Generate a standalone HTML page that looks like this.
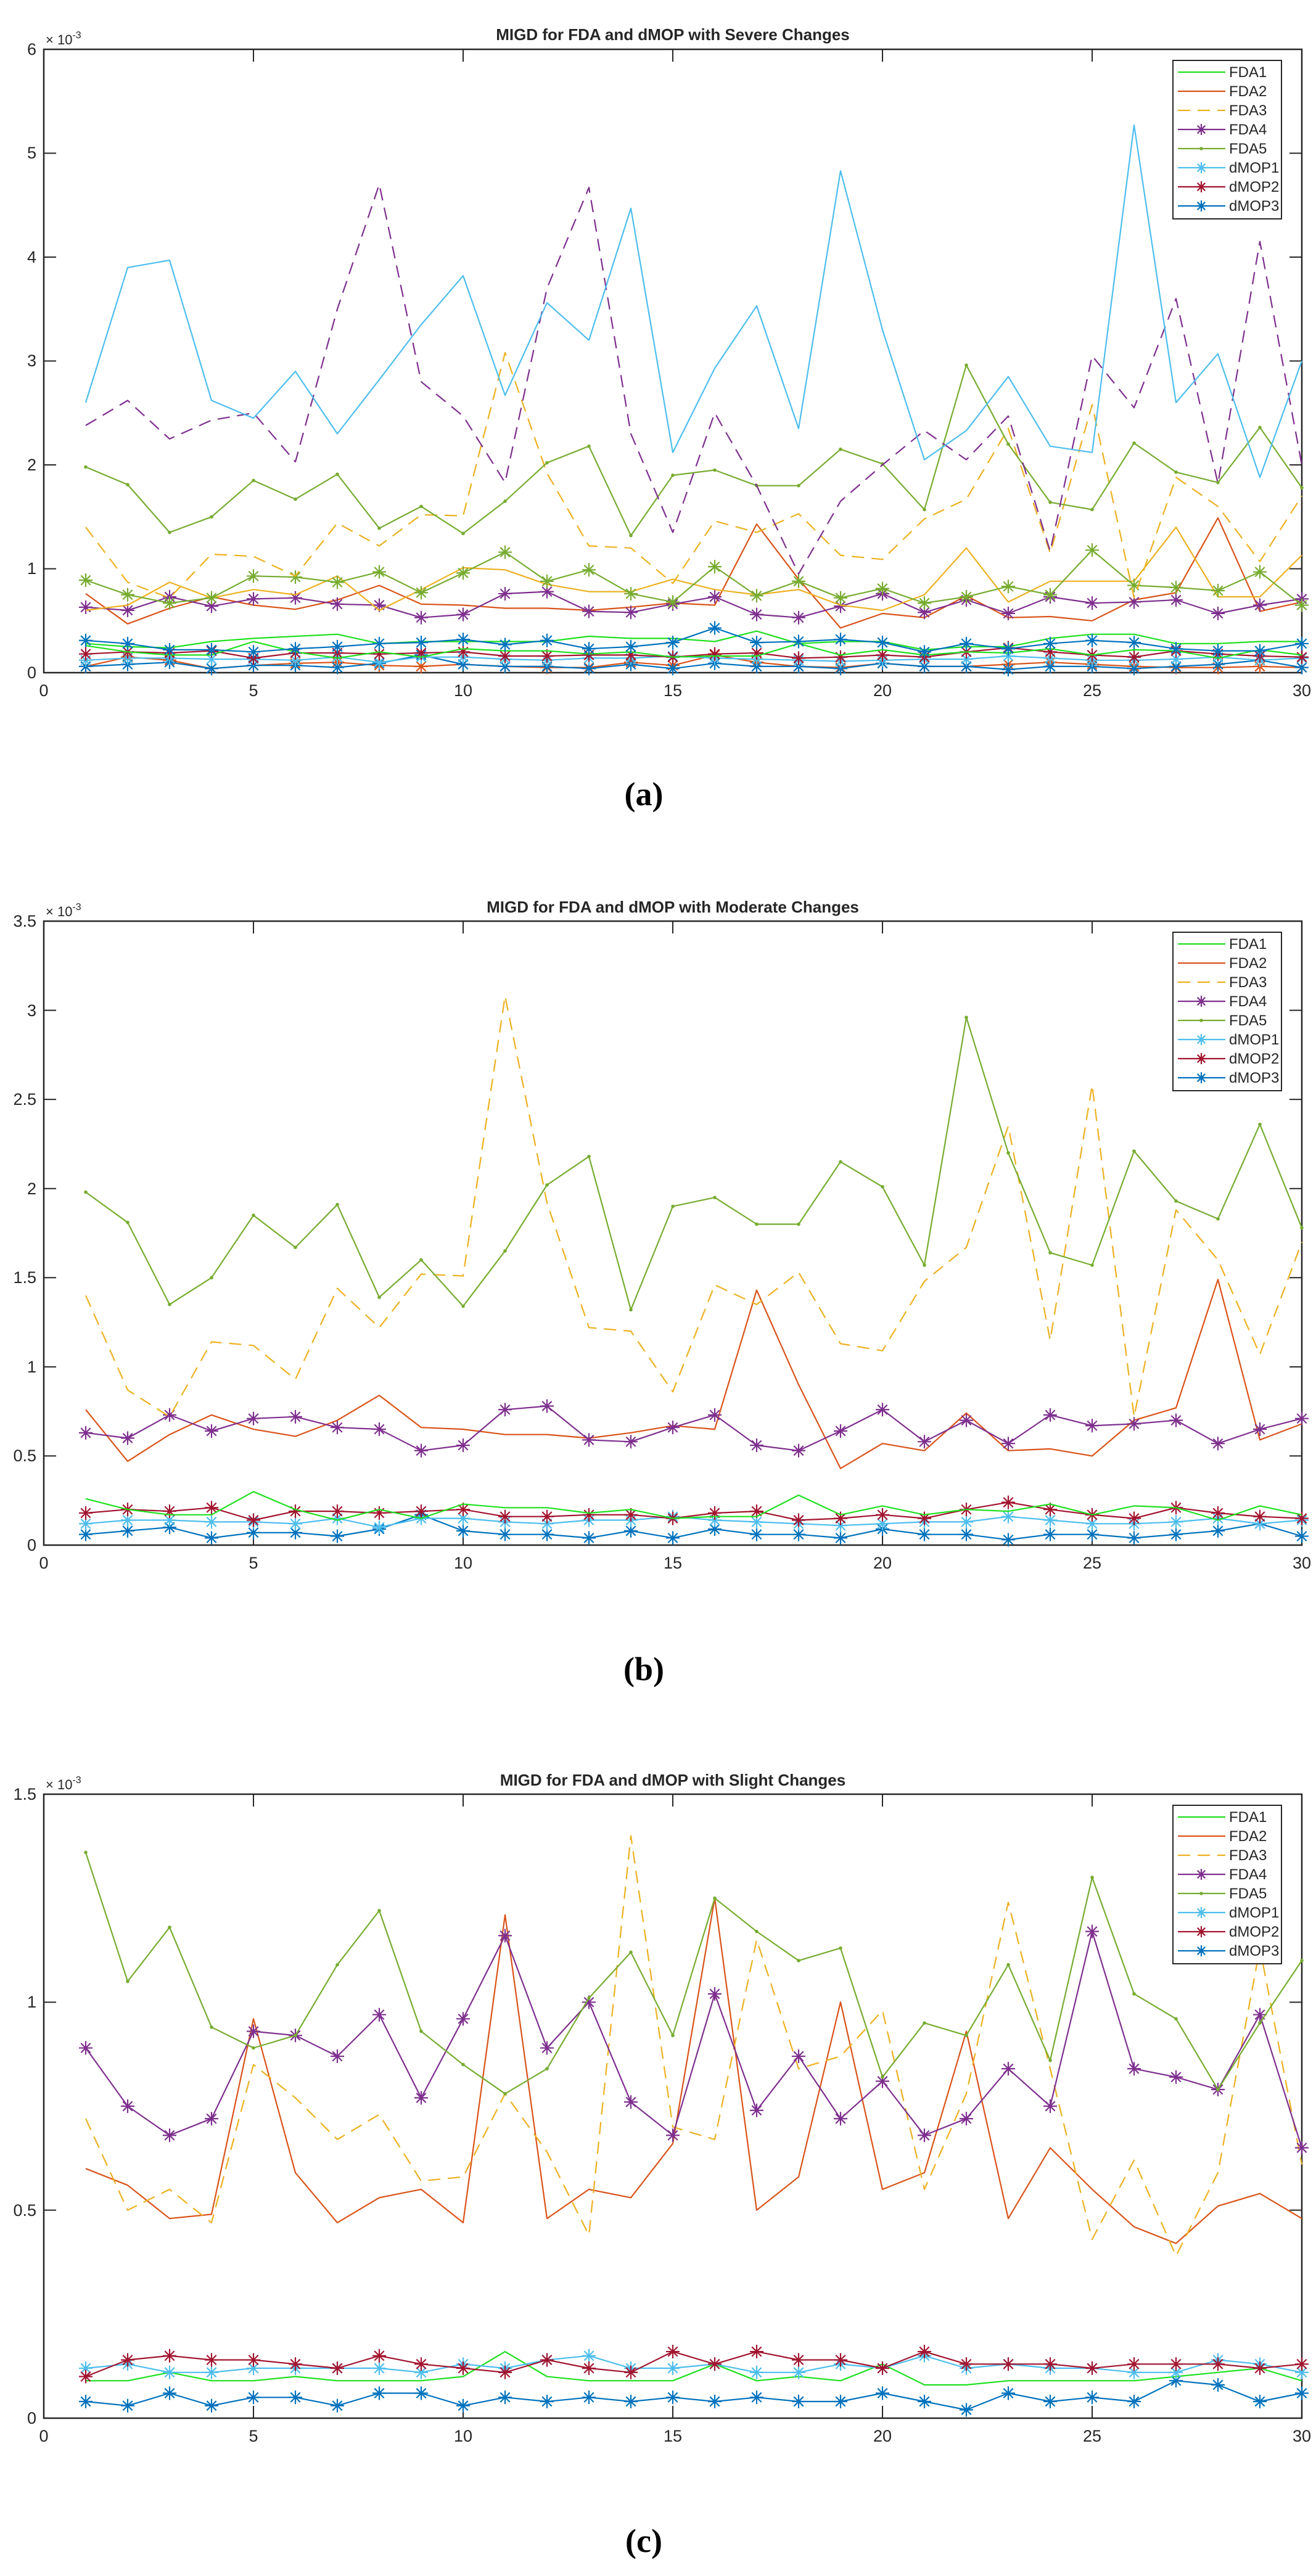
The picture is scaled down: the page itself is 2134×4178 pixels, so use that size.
<!DOCTYPE html>
<html><head><meta charset="utf-8">
<style>
html,body{margin:0;padding:0;background:#fff;}
svg{display:block;}
.t{font-family:"Liberation Sans",Arial,sans-serif;fill:#262626;}
</style></head>
<body>
<svg id="s" width="2134" height="4178" viewBox="0 0 2134 4178" xmlns="http://www.w3.org/2000/svg">
<rect width="2134" height="4178" fill="#fff"/>
<g id="plots"></g>
<g class="t" font-size="27" text-anchor="end">
<text x="59" y="1100">0</text><text x="59" y="931">1</text><text x="59" y="763">2</text><text x="59" y="594">3</text><text x="59" y="426">4</text><text x="59" y="257">5</text><text x="59" y="89">6</text>
<text x="59" y="2515">0</text><text x="59" y="2370">0.5</text><text x="59" y="2226">1</text><text x="59" y="2081">1.5</text><text x="59" y="1937">2</text><text x="59" y="1792">2.5</text><text x="59" y="1648">3</text><text x="59" y="1503">3.5</text>
<text x="59" y="3931">0</text><text x="59" y="3594">0.5</text><text x="59" y="3256">1</text><text x="59" y="2919">1.5</text>
</g>
<g class="t" font-size="27" text-anchor="middle">
<text x="71" y="1129">0</text><text x="411" y="1129">5</text><text x="751" y="1129">10</text><text x="1091" y="1129">15</text><text x="1431" y="1129">20</text><text x="1771" y="1129">25</text><text x="2111" y="1129">30</text>
<text x="71" y="2544">0</text><text x="411" y="2544">5</text><text x="751" y="2544">10</text><text x="1091" y="2544">15</text><text x="1431" y="2544">20</text><text x="1771" y="2544">25</text><text x="2111" y="2544">30</text>
<text x="71" y="3960">0</text><text x="411" y="3960">5</text><text x="751" y="3960">10</text><text x="1091" y="3960">15</text><text x="1431" y="3960">20</text><text x="1771" y="3960">25</text><text x="2111" y="3960">30</text>
</g>
<g class="t" font-size="22">
<text x="74" y="72">× 10<tspan font-size="16" dy="-10">-3</tspan></text>
<text x="74" y="1486">× 10<tspan font-size="16" dy="-10">-3</tspan></text>
<text x="74" y="2902">× 10<tspan font-size="16" dy="-10">-3</tspan></text>
</g>
<g class="t" font-size="26" font-weight="bold" text-anchor="middle" fill="#000">
<text x="1091" y="65">MIGD for FDA and dMOP with Severe Changes</text>
<text x="1091" y="1480">MIGD for FDA and dMOP with Moderate Changes</text>
<text x="1091" y="2896">MIGD for FDA and dMOP with Slight Changes</text>
</g>
<g font-family="'Liberation Serif',serif" font-size="54" font-weight="bold" text-anchor="middle" fill="#000">
<text x="1044" y="1306">(a)</text>
<text x="1044" y="2725">(b)</text>
<text x="1044" y="4139">(c)</text>
</g>
<g id="legtext" class="t" font-size="24" fill="#000">
<text x="1993" y="125">FDA1</text><text x="1993" y="156">FDA2</text><text x="1993" y="187">FDA3</text><text x="1993" y="218">FDA4</text><text x="1993" y="249">FDA5</text><text x="1993" y="280">dMOP1</text><text x="1993" y="311">dMOP2</text><text x="1993" y="342">dMOP3</text>
<text x="1993" y="1539">FDA1</text><text x="1993" y="1570">FDA2</text><text x="1993" y="1601">FDA3</text><text x="1993" y="1632">FDA4</text><text x="1993" y="1663">FDA5</text><text x="1993" y="1694">dMOP1</text><text x="1993" y="1725">dMOP2</text><text x="1993" y="1756">dMOP3</text>
<text x="1993" y="2955">FDA1</text><text x="1993" y="2986">FDA2</text><text x="1993" y="3017">FDA3</text><text x="1993" y="3048">FDA4</text><text x="1993" y="3079">FDA5</text><text x="1993" y="3110">dMOP1</text><text x="1993" y="3141">dMOP2</text><text x="1993" y="3172">dMOP3</text>
</g>
</svg>
<script>
(function(){
var NS="http://www.w3.org/2000/svg";
var g=document.getElementById("plots");
function el(n,a,p){var e=document.createElementNS(NS,n);for(var k in a)e.setAttribute(k,a[k]);(p||g).appendChild(e);return e;}
var C={f1:"#1fe01f",f2:"#D95319",f3:"#EDB120",f4:"#7E2F8E",f5:"#77AC30",d1:"#4DBEEE",d2:"#A2142F",d3:"#0072BD"};
var X0=71,X1=2111;
function star(x,y,c,s){s=s||11;var d="M"+(x-s)+" "+y+"H"+(x+s)+"M"+x+" "+(y-s)+"V"+(y+s)+"M"+(x-s*.7)+" "+(y-s*.7)+"L"+(x+s*.7)+" "+(y+s*.7)+"M"+(x-s*.7)+" "+(y+s*.7)+"L"+(x+s*.7)+" "+(y-s*.7);el("path",{d:d,stroke:c,"stroke-width":2.2,fill:"none"});}
function dot(x,y,c){el("circle",{cx:x,cy:y,r:2.8,fill:c});}
function series(top,bot,ymax,data,c,m,dash){
  var pts=[];for(var i=0;i<data.length;i++){var x=X0+68*(i+1);var y=bot-data[i]/ymax*(bot-top);pts.push([x,y]);}
  var a={points:pts.map(function(p){return p[0].toFixed(1)+","+p[1].toFixed(1)}).join(" "),fill:"none",stroke:c,"stroke-width":2.2,"stroke-linejoin":"round"};
  if(dash)a["stroke-dasharray"]="20,12";
  el("polyline",a);
  pts.forEach(function(p){if(m=="s")star(p[0],p[1],c);else if(m=="d")dot(p[0],p[1],c);});
}
function axes(top,bot,ymax,step){
  el("rect",{x:X0,y:top,width:X1-X0,height:bot-top,fill:"none",stroke:"#262626","stroke-width":2.5});
  for(var k=5;k<30;k+=5){var x=X0+68*k;el("line",{x1:x,y1:bot,x2:x,y2:bot-20,stroke:"#262626","stroke-width":2});el("line",{x1:x,y1:top,x2:x,y2:top+20,stroke:"#262626","stroke-width":2});}
  for(var v=step;v<ymax-1e-9;v+=step){var y=bot-v/ymax*(bot-top);el("line",{x1:X0,y1:y,x2:X0+20,y2:y,stroke:"#262626","stroke-width":2});el("line",{x1:X1,y1:y,x2:X1-20,y2:y,stroke:"#262626","stroke-width":2});}
}
function legend(top){
  el("rect",{x:1902,y:top+18,width:176,height:257,fill:"#fff",stroke:"#262626","stroke-width":2});
  var L=[["f1",""],["f2",""],["f3","dash"],["f4","s"],["f5","d"],["d1","s"],["d2","s"],["d3","s"]];
  L.forEach(function(l,i){var y=top+37+31*i;var a={x1:1910,y1:y,x2:1987,y2:y,stroke:C[l[0]],"stroke-width":2.2};if(l[1]=="dash")a["stroke-dasharray"]="20,12";el("line",a);if(l[1]=="s")star(1948,y,C[l[0]],9);if(l[1]=="d")dot(1948,y,C[l[0]]);});
}
var bF1=[0.26,0.2,0.17,0.17,0.3,0.2,0.14,0.2,0.15,0.23,0.21,0.21,0.18,0.2,0.15,0.16,0.16,0.28,0.17,0.22,0.17,0.2,0.19,0.23,0.17,0.22,0.21,0.14,0.22,0.17];
var bF2=[0.76,0.47,0.62,0.73,0.65,0.61,0.7,0.84,0.66,0.65,0.62,0.62,0.6,0.63,0.67,0.65,1.43,0.9,0.43,0.57,0.53,0.74,0.53,0.54,0.5,0.7,0.77,1.49,0.59,0.68];
var bF3=[1.4,0.87,0.72,1.14,1.12,0.93,1.44,1.22,1.52,1.51,3.08,1.92,1.22,1.2,0.86,1.46,1.35,1.53,1.13,1.09,1.48,1.67,2.35,1.15,2.58,0.72,1.88,1.6,1.07,1.7];
var bF4=[0.63,0.6,0.73,0.64,0.71,0.72,0.66,0.65,0.53,0.56,0.76,0.78,0.59,0.58,0.66,0.73,0.56,0.53,0.64,0.76,0.58,0.7,0.57,0.73,0.67,0.68,0.7,0.57,0.65,0.71];
var bF5=[1.98,1.81,1.35,1.5,1.85,1.67,1.91,1.39,1.6,1.34,1.65,2.02,2.18,1.32,1.9,1.95,1.8,1.8,2.15,2.01,1.57,2.96,2.2,1.64,1.57,2.21,1.93,1.83,2.36,1.78];
var bD1=[0.12,0.14,0.14,0.13,0.13,0.12,0.15,0.1,0.15,0.15,0.13,0.12,0.14,0.14,0.16,0.14,0.13,0.12,0.11,0.12,0.13,0.13,0.16,0.14,0.12,0.12,0.13,0.15,0.12,0.14];
var bD2=[0.18,0.2,0.19,0.21,0.14,0.19,0.19,0.18,0.19,0.2,0.16,0.16,0.17,0.17,0.15,0.18,0.19,0.14,0.15,0.17,0.15,0.2,0.24,0.2,0.17,0.15,0.21,0.18,0.16,0.15];
var bD3=[0.06,0.08,0.1,0.04,0.07,0.07,0.05,0.09,0.17,0.08,0.06,0.06,0.04,0.08,0.04,0.09,0.06,0.06,0.04,0.09,0.06,0.06,0.03,0.06,0.06,0.04,0.06,0.08,0.12,0.05];
var T=80,B=1091,M=6;
axes(T,B,M,1);
series(T,B,M,[0.06,0.15,0.12,0.04,0.07,0.09,0.1,0.07,0.06,0.08,0.06,0.05,0.05,0.1,0.07,0.17,0.1,0.06,0.05,0.09,0.06,0.06,0.08,0.1,0.08,0.06,0.05,0.05,0.06,0.05],C.f2,"s");
series(T,B,M,bD3,C.d3,"s");series(T,B,M,bD1,C.d1,"s");series(T,B,M,bD2,C.d2,"s");series(T,B,M,bF1,C.f1,"");
series(T,B,M,[0.28,0.25,0.24,0.3,0.33,0.35,0.37,0.28,0.3,0.3,0.3,0.3,0.35,0.33,0.33,0.3,0.4,0.28,0.3,0.3,0.22,0.25,0.25,0.33,0.37,0.37,0.28,0.28,0.3,0.3],C.f1,"");
series(T,B,M,[0.31,0.28,0.22,0.22,0.2,0.23,0.25,0.28,0.29,0.32,0.27,0.31,0.23,0.25,0.29,0.43,0.29,0.3,0.32,0.29,0.2,0.28,0.23,0.28,0.31,0.29,0.23,0.21,0.21,0.28],C.d3,"s");
series(T,B,M,bF2,C.f2,"");
series(T,B,M,bF4,C.f4,"s");
series(T,B,M,[0.6,0.65,0.87,0.72,0.8,0.75,0.93,0.6,0.8,1.01,0.99,0.85,0.78,0.78,0.9,0.8,0.75,0.8,0.65,0.6,0.75,1.2,0.68,0.88,0.88,0.88,1.4,0.73,0.73,1.13],C.f3,"");
series(T,B,M,[0.89,0.75,0.67,0.72,0.93,0.92,0.87,0.97,0.77,0.96,1.16,0.88,0.99,0.76,0.68,1.02,0.74,0.88,0.72,0.81,0.67,0.73,0.83,0.75,1.18,0.84,0.82,0.79,0.97,0.65],C.f5,"s");
series(T,B,M,bF3,C.f3,"",true);
series(T,B,M,bF5,C.f5,"d");
series(T,B,M,[2.38,2.62,2.25,2.43,2.5,2.03,3.5,4.7,2.8,2.47,1.83,3.7,4.67,2.3,1.35,2.5,1.8,0.95,1.65,2.0,2.33,2.05,2.47,1.17,3.05,2.55,3.6,1.82,4.15,2.0],C.f4,"",true);
series(T,B,M,[2.6,3.9,3.97,2.62,2.45,2.9,2.3,2.82,3.35,3.82,2.67,3.56,3.2,4.47,2.12,2.93,3.53,2.35,4.83,3.3,2.05,2.33,2.85,2.18,2.12,5.27,2.6,3.07,1.88,3.0],C.d1,"");
legend(T);
T=1494;B=2506;M=3.5;
axes(T,B,M,0.5);
series(T,B,M,bD3,C.d3,"s");series(T,B,M,bD1,C.d1,"s");series(T,B,M,bD2,C.d2,"s");series(T,B,M,bF1,C.f1,"");
series(T,B,M,bF2,C.f2,"");series(T,B,M,bF4,C.f4,"s");series(T,B,M,bF3,C.f3,"",true);series(T,B,M,bF5,C.f5,"d");
legend(T);
T=2910;B=3922;M=1.5;
axes(T,B,M,0.5);
series(T,B,M,[0.04,0.03,0.06,0.03,0.05,0.05,0.03,0.06,0.06,0.03,0.05,0.04,0.05,0.04,0.05,0.04,0.05,0.04,0.04,0.06,0.04,0.02,0.06,0.04,0.05,0.04,0.09,0.08,0.04,0.06],C.d3,"s");
series(T,B,M,[0.09,0.09,0.11,0.09,0.09,0.1,0.09,0.09,0.09,0.1,0.16,0.1,0.09,0.09,0.09,0.13,0.09,0.1,0.09,0.13,0.08,0.08,0.09,0.09,0.09,0.09,0.1,0.11,0.12,0.09],C.f1,"");
series(T,B,M,[0.12,0.13,0.11,0.11,0.12,0.12,0.12,0.12,0.11,0.13,0.12,0.14,0.15,0.12,0.12,0.13,0.11,0.11,0.13,0.12,0.15,0.12,0.13,0.12,0.12,0.11,0.11,0.14,0.13,0.11],C.d1,"s");
series(T,B,M,[0.1,0.14,0.15,0.14,0.14,0.13,0.12,0.15,0.13,0.12,0.11,0.14,0.12,0.11,0.16,0.13,0.16,0.14,0.14,0.12,0.16,0.13,0.13,0.13,0.12,0.13,0.13,0.13,0.12,0.13],C.d2,"s");
series(T,B,M,[0.6,0.56,0.48,0.49,0.96,0.59,0.47,0.53,0.55,0.47,1.21,0.48,0.55,0.53,0.66,1.25,0.5,0.58,1.0,0.55,0.59,0.93,0.48,0.65,0.55,0.46,0.42,0.51,0.54,0.48],C.f2,"");
series(T,B,M,[0.72,0.5,0.55,0.47,0.85,0.77,0.67,0.73,0.57,0.58,0.78,0.64,0.44,1.4,0.7,0.67,1.15,0.84,0.87,0.98,0.55,0.78,1.24,0.84,0.43,0.62,0.39,0.59,1.13,0.61],C.f3,"",true);
series(T,B,M,[0.89,0.75,0.68,0.72,0.93,0.92,0.87,0.97,0.77,0.96,1.16,0.89,1.0,0.76,0.68,1.02,0.74,0.87,0.72,0.81,0.68,0.72,0.84,0.75,1.17,0.84,0.82,0.79,0.97,0.65],C.f4,"s");
series(T,B,M,[1.36,1.05,1.18,0.94,0.89,0.92,1.09,1.22,0.93,0.85,0.78,0.84,1.01,1.12,0.92,1.25,1.17,1.1,1.13,0.82,0.95,0.92,1.09,0.86,1.3,1.02,0.96,0.79,0.95,1.1],C.f5,"d");
legend(T);
var lt=document.getElementById("legtext");lt.parentNode.appendChild(lt);
})();
</script>
</body></html>
